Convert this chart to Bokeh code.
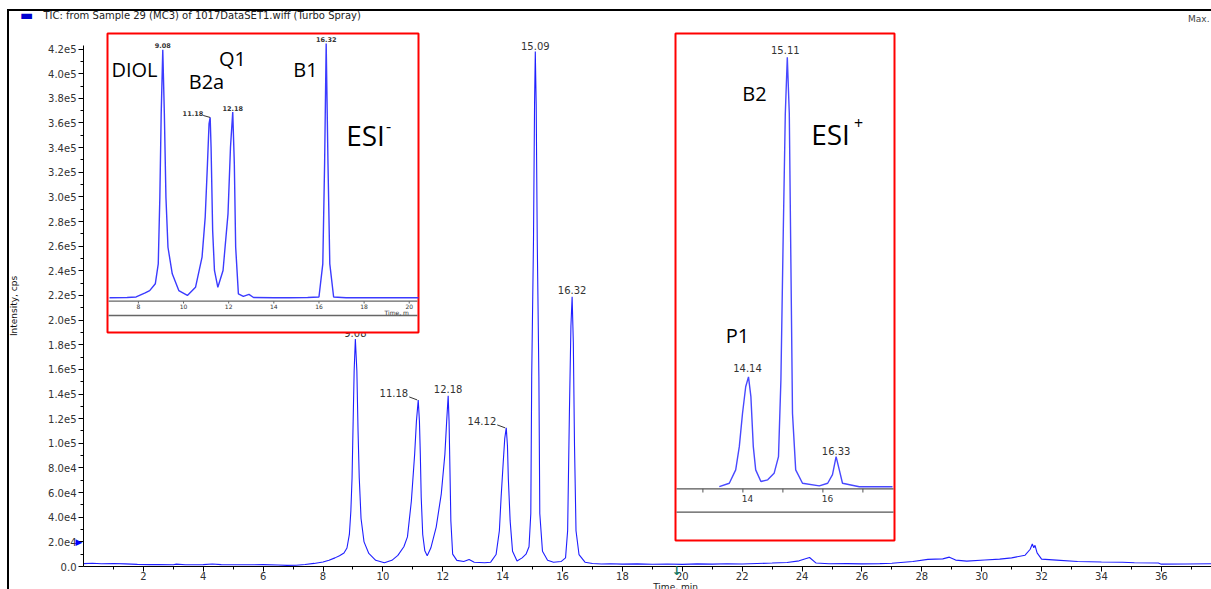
from bokeh.plotting import figure
from bokeh.models import Range1d, FixedTicker, Label
from bokeh.core.properties import value
from bokeh.embed import file_html
from bokeh.resources import INLINE

# ---------------- data ----------------
time_min = [0.00, 0.30, 0.60, 1.00, 1.40, 1.80, 2.20, 2.50, 3.00, 3.10, 3.40, 4.00, 4.30, 4.60, 5.00,
            5.50, 6.00, 6.50, 6.80, 7.10, 7.40, 7.70, 8.00, 8.20, 8.40, 8.55, 8.70, 8.80,
            8.88, 8.93, 8.97, 9.00, 9.04, 9.08, 9.13, 9.17, 9.21, 9.27, 9.37, 9.53, 9.76,
            10.05, 10.30, 10.50, 10.70, 10.82, 10.95, 11.06, 11.12, 11.18, 11.22, 11.25, 11.28,
            11.33, 11.40, 11.48, 11.60, 11.78, 11.95, 12.07, 12.13, 12.18, 12.21, 12.24, 12.27,
            12.33, 12.47, 12.70, 12.88, 13.05, 13.40, 13.60, 13.78, 13.89, 13.95, 14.02, 14.07,
            14.12, 14.16, 14.19, 14.25, 14.33, 14.48, 14.65, 14.78, 14.88, 14.94, 14.97, 15.03,
            15.065, 15.09, 15.12, 15.155, 15.21, 15.24, 15.33, 15.50, 15.70, 15.95, 16.10, 16.17,
            16.23, 16.28, 16.32, 16.36, 16.40, 16.45, 16.55, 16.75, 17.00, 17.30, 17.60, 18.00,
            18.50, 19.00, 19.50, 20.00, 20.50, 21.00, 21.50, 22.00, 22.50, 23.00, 23.50, 23.90,
            24.25, 24.47, 24.90, 25.50, 26.00, 26.60, 27.00, 27.70, 28.20, 28.70, 28.92, 29.13,
            29.50, 30.10, 30.60, 31.00, 31.45, 31.62, 31.69, 31.74, 31.78, 31.85, 32.00, 32.50,
            33.20, 34.00, 34.70, 35.10, 35.90, 36.00, 36.80, 37.68]
tic_cps = [2300, 2600, 2200, 2400, 2100, 1700, 1500, 1600, 1400, 1900, 1400, 1500, 2000, 1500, 1400,
           1400, 1500, 1200, 900, 1000, 1600, 2500, 3600, 5000, 7000, 8800, 11000, 15000,
           26000, 45000, 72000, 110000, 159000, 184600, 159000, 110000, 72000, 39000, 20000, 10600, 5000,
           3000, 5000, 9000, 16000, 24000, 53000, 91000, 118000, 135200, 118000, 91000, 56000,
           26000, 12700, 8700, 15000, 32000, 59000, 91000, 118000, 138500, 118000, 78000, 37000,
           10000, 5000, 4000, 5600, 3500, 3000, 3500, 9700, 29000, 57000, 85000, 104000,
           112500, 98000, 71000, 37000, 12400, 4500, 7000, 10000, 16000, 43000, 154000, 265000,
           375000, 418000, 375000, 265000, 154000, 43000, 12400, 5000, 3500, 4000, 7000, 29000,
           126000, 195000, 219000, 182000, 98000, 29000, 9700, 3500, 2400, 2000, 2200, 1900,
           2100, 1800, 2000, 1700, 2100, 1900, 2200, 2000, 2400, 2800, 3300, 4600,
           7300, 2800, 2200, 2300, 2100, 2300, 2600, 4000, 5800, 6200, 7600, 5200,
           4400, 5300, 6000, 7000, 9200, 14000, 18200, 15200, 17200, 11000, 6000, 5200,
           4000, 3600, 3400, 3000, 2800, 1900, 2000, 2200]

peak_rt = [9.08, 11.18, 12.18, 14.12, 15.09, 16.32]
peak_text = ["9.08", "11.18", "12.18", "14.12", "15.09", "16.32"]

y_tick_values = [0, 20000, 40000, 60000, 80000, 100000, 120000, 140000, 160000, 180000, 200000,
                 220000, 240000, 260000, 280000, 300000, 320000, 340000, 360000, 380000, 400000, 420000]
y_tick_labels = ["0.0", "2.0e4", "4.0e4", "6.0e4", "8.0e4", "1.0e5", "1.2e5", "1.4e5", "1.6e5", "1.8e5",
                 "2.0e5", "2.2e5", "2.4e5", "2.6e5", "2.8e5", "3.0e5", "3.2e5", "3.4e5", "3.6e5", "3.8e5",
                 "4.0e5", "4.2e5"]
x_tick_values = [2, 4, 6, 8, 10, 12, 14, 16, 18, 20, 22, 24, 26, 28, 30, 32, 34, 36]

# ESI- inset (relative intensity, %)
neg_time = [6.72, 7.50, 7.90, 8.05, 8.30, 8.50, 8.75, 8.88, 8.95, 9.01, 9.08, 9.15, 9.22, 9.31, 9.50,
            9.79, 10.17, 10.53, 10.82, 10.96, 11.06, 11.13, 11.18, 11.22, 11.29, 11.37, 11.52, 11.75,
            11.97, 12.08, 12.18, 12.25, 12.31, 12.43, 12.65, 12.90, 13.10, 14.00, 14.70, 15.50, 16.00,
            16.17, 16.25, 16.32, 16.40, 16.48, 16.65, 17.20, 18.37, 20.41]
neg_rel = [0.3, 0.4, 0.6, 1.2, 2.2, 3.1, 5.8, 13.6, 39.7, 72.4, 97.5, 72.4, 39.7, 20.1, 9.7,
           3.1, 1.2, 4.4, 16.2, 31.9, 52.8, 68.5, 71.0, 59.3, 26.7, 11.0, 4.4, 11.0,
           33.2, 59.3, 73.1, 52.8, 20.1, 1.8, 0.8, 1.6, 0.4, 0.3, 0.3, 0.4, 0.6,
           13.6, 52.8, 100.0, 52.8, 13.6, 0.6, 0.3, 0.3, 0.3]
neg_peak_rt = [9.08, 11.18, 12.18, 16.32]
neg_peak_text = ["9.08", "11.18", "12.18", "16.32"]
neg_tick_values = [8, 10, 12, 14, 16, 18, 20]
neg_names = ["DIOL", "B2a", "Q1", "B1"]

# ESI+ inset (relative intensity, %)
pos_time = [13.41, 13.66, 13.82, 13.91, 13.99, 14.07, 14.14, 14.20, 14.26, 14.32, 14.45, 14.62, 14.78,
            14.89, 14.95, 15.01, 15.06, 15.11, 15.16, 15.20, 15.24, 15.32, 15.49, 15.91, 16.12, 16.24,
            16.33, 16.41, 16.49, 16.91, 17.74]
pos_rel = [0.3, 1.1, 4.2, 9.6, 17.3, 23.5, 25.8, 21.2, 9.6, 4.2, 1.5, 1.9, 3.4,
           7.3, 25.0, 59.9, 86.9, 100.0, 86.9, 52.1, 17.3, 4.2, 1.1, 0.5, 1.1, 3.1,
           7.3, 4.2, 1.1, 0.3, 0.3]
pos_peak_rt = [14.14, 15.11, 16.33]
pos_peak_text = ["14.14", "15.11", "16.33"]
pos_tick_values = [14, 16]
pos_minor_ticks = [13, 14, 15, 16, 17]
pos_names = ["P1", "B2"]

# ---------------- layout helpers (pixel geometry) ----------------
W, H = 1211, 589


class Map:
    def __init__(self, v0, p0, v1, p1):
        self.s = (v1 - v0) / (p1 - p0)
        self.v0, self.p0 = v0, p0

    def v(self, p):
        return self.v0 + (p - self.p0) * self.s

    def d(self, dp):
        return dp * self.s


mx = Map(0, 83, 36, 83 + 36 * 29.94)
my = Map(0, 566, 400000, 566 - 4 * 123.2)
ax1 = Map(8, 137.9, 16, 137.9 + 8 * 22.57)
ay1 = Map(0, 298, 100, 43)
ax2 = Map(14, 742.4, 16, 822.4)
ay2 = Map(0, 487.5, 100, 56.8)

# the frame covers the whole canvas; the axes are pinned at x = 0 and y = 0
p = figure(width=W, height=H, output_backend="svg", toolbar_location=None,
           x_range=Range1d(mx.v(0), mx.v(W)), y_range=Range1d(my.v(H), my.v(0)),
           min_border=0)
p.extra_x_ranges = {"neg": Range1d(ax1.v(0), ax1.v(W)), "pos": Range1d(ax2.v(0), ax2.v(W))}
p.extra_y_ranges = {"neg": Range1d(ay1.v(H), ay1.v(0)), "pos": Range1d(ay2.v(H), ay2.v(0))}
p.border_fill_color = None
p.background_fill_color = None
p.outline_line_color = None
p.xgrid.visible = False
p.ygrid.visible = False
p.styles = {"background-color": "white",
            "background-image": "linear-gradient(#000, #000), linear-gradient(#000, #000)",
            "background-size": "1204px 2px, 2px 580px",
            "background-position": "7px 9px, 7px 9px",
            "background-repeat": "no-repeat"}

TICK_FONT = "DejaVu Sans"
ya = p.yaxis[0]
xa = p.xaxis[0]
ya.fixed_location = 0
xa.fixed_location = 0
ya.ticker = FixedTicker(ticks=y_tick_values, minor_ticks=list(range(10000, 430000, 20000)))
ya.major_label_overrides = dict(zip(y_tick_values, y_tick_labels))
ya.bounds = (0, 423000)
ya.axis_label = "Intensity, cps"
ya.axis_label_standoff = 26
ya.axis_label_text_font = TICK_FONT
ya.axis_label_text_font_size = "9px"
ya.axis_label_text_font_style = "normal"
ya.axis_label_text_color = "#111111"
xa.ticker = FixedTicker(ticks=x_tick_values, minor_ticks=list(range(1, 38)))
xa.bounds = (0, mx.v(W))
for a in (xa, ya):
    a.axis_line_color = "black"
    a.major_tick_line_color = "black"
    a.minor_tick_line_color = "black"
    a.major_tick_in = 0
    a.minor_tick_in = 0
    a.major_tick_out = 5
    a.minor_tick_out = 3
    a.major_label_text_font = TICK_FONT
    a.major_label_text_font_size = "10px"
    a.major_label_text_color = "#333333"
ya.major_label_standoff = 2
xa.major_label_standoff = 0

# ---------------- main trace ----------------
p.line(time_min, tic_cps, line_color="#1f1fff", line_width=1.1)

peak_h = [tic_cps[time_min.index(t)] for t in peak_rt]
lab_dx = [0, -10, 0, -10, 0, 0]
lab_dy = [-2, -3, -3, -3, -2, -3]
lab_align = ["center", "right", "center", "right", "center", "center"]
p.text(x=peak_rt, y=peak_h, text=peak_text, x_offset=lab_dx, y_offset=lab_dy, text_align=lab_align,
       text_baseline="bottom", text_font=value(TICK_FONT), text_font_size="10px", text_color="#333333")
lead = [i for i, a in enumerate(lab_align) if a == "right"]
p.segment(x0=[peak_rt[i] - mx.d(9) for i in lead], y0=[peak_h[i] - my.d(3) for i in lead],
          x1=[peak_rt[i] - mx.d(1) for i in lead], y1=[peak_h[i] for i in lead],
          line_color="#333333", line_width=1)

# ---------------- ESI- inset ----------------
R1 = dict(x_range_name="neg", y_range_name="neg")
p.quad(left=[ax1.v(107)], right=[ax1.v(418)], bottom=[ay1.v(332)], top=[ay1.v(33)],
       fill_color="white", line_color="#ff0000", line_width=2, **R1)
p.segment(x0=[ax1.v(108)] * 2, x1=[ax1.v(417)] * 2, y0=[ay1.v(300.7), ay1.v(315)],
          y1=[ay1.v(300.7), ay1.v(315)], line_color="#666666", line_width=1.3, **R1)
p.segment(x0=neg_tick_values, x1=neg_tick_values, y0=[ay1.v(300.7)] * len(neg_tick_values),
          y1=[ay1.v(303)] * len(neg_tick_values), line_color="#666666", line_width=1, **R1)
p.text(x=neg_tick_values, y=[ay1.v(305.5)] * len(neg_tick_values), text=[str(t) for t in neg_tick_values],
       text_align="center", text_baseline="middle", text_font=value(TICK_FONT), text_font_size="6px",
       text_color="#333333", **R1)
p.text(x=[ax1.v(384)], y=[ay1.v(311.5)], text=["Time, m"], text_align="left", text_baseline="middle",
       text_font=value(TICK_FONT), text_font_size="6px", text_color="#333333", **R1)
p.line(neg_time, neg_rel, line_color="#3b3bff", line_width=1.4, **R1)
neg_h = [neg_rel[neg_time.index(t)] for t in neg_peak_rt]
n_dx = [0, -7, 0, 0]
n_align = ["center", "right", "center", "center"]
p.text(x=neg_peak_rt, y=neg_h, text=neg_peak_text, x_offset=n_dx, y_offset=[-1.5, -1, -1.5, -2],
       text_align=n_align, text_baseline="bottom", text_font=value(TICK_FONT), text_font_size="6.5px",
       text_font_style="bold", text_color="#333333", **R1)
p.segment(x0=[neg_peak_rt[1] - ax1.d(7)], y0=[neg_h[1] - ay1.d(2)], x1=[neg_peak_rt[1]],
          y1=[neg_h[1]], line_color="#333333", line_width=1, **R1)

# ---------------- ESI+ inset ----------------
R2 = dict(x_range_name="pos", y_range_name="pos")
p.quad(left=[ax2.v(675)], right=[ax2.v(894)], bottom=[ay2.v(540)], top=[ay2.v(33)],
       fill_color="white", line_color="#ff0000", line_width=2, **R2)
p.segment(x0=[ax2.v(676)] * 2, x1=[ax2.v(893)] * 2, y0=[ay2.v(488.3), ay2.v(511.7)],
          y1=[ay2.v(488.3), ay2.v(511.7)], line_color="#555555", line_width=1.3, **R2)
p.segment(x0=pos_minor_ticks, x1=pos_minor_ticks, y0=[ay2.v(488.3)] * len(pos_minor_ticks),
          y1=[ay2.v(492)] * len(pos_minor_ticks), line_color="#555555", line_width=1, **R2)
p.text(x=pos_tick_values, y=[ay2.v(497.5)] * len(pos_tick_values), text=[str(t) for t in pos_tick_values],
       x_offset=4.5, text_align="center", text_baseline="middle", text_font=value(TICK_FONT),
       text_font_size="9px", text_color="#333333", **R2)
p.line(pos_time, pos_rel, line_color="#4848ff", line_width=1.4, **R2)
pos_h = [pos_rel[pos_time.index(t)] for t in pos_peak_rt]
p.text(x=pos_peak_rt, y=pos_h, text=pos_peak_text, x_offset=[-1, -2, 0], y_offset=[-4.5, -3, -2],
       text_align="center", text_baseline="bottom", text_font=value(TICK_FONT), text_font_size="10px",
       text_color="#333333", **R2)

# ---------------- annotations ----------------
def lab(px, py, text, size, font="Open Sans", color="black", align="center", style="normal"):
    p.add_layout(Label(x=mx.v(px), y=my.v(py), text=text, text_align=align, text_baseline="middle",
                       text_font=font, text_font_size=size, text_color=color, text_font_style=style))

for name, px, py in zip(neg_names, [134, 206, 232, 305], [69, 81, 58, 69]):
    lab(px, py, name, "20px")
lab(365, 134, "ESI", "28px")
lab(388, 125, "-", "16px")
for name, px, py in zip(pos_names, [737, 754], [335, 93]):
    lab(px, py, name, "20px")
lab(830, 133, "ESI", "28px")
lab(858, 122, "+", "16px")

lab(43, 15, "TIC: from Sample 29 (MC3) of 1017DataSET1.wiff (Turbo Spray)", "10px", TICK_FONT, "#222222", "left")
lab(1209, 18, "Max.", "9px", TICK_FONT, "#444444", "right")
lab(26, 14, "\u25ac", "14px", TICK_FONT, "#0000d0")
lab(82, 541, "\u25b6", "9px", TICK_FONT, "#0000ff", "right")
lab(676, 570, "\u2193", "12px", TICK_FONT, "#127a66", "center", "bold")
lab(675, 586, "Time, min", "9px", TICK_FONT, "#222222")

open("out.html", "w").write(file_html(p, INLINE))
